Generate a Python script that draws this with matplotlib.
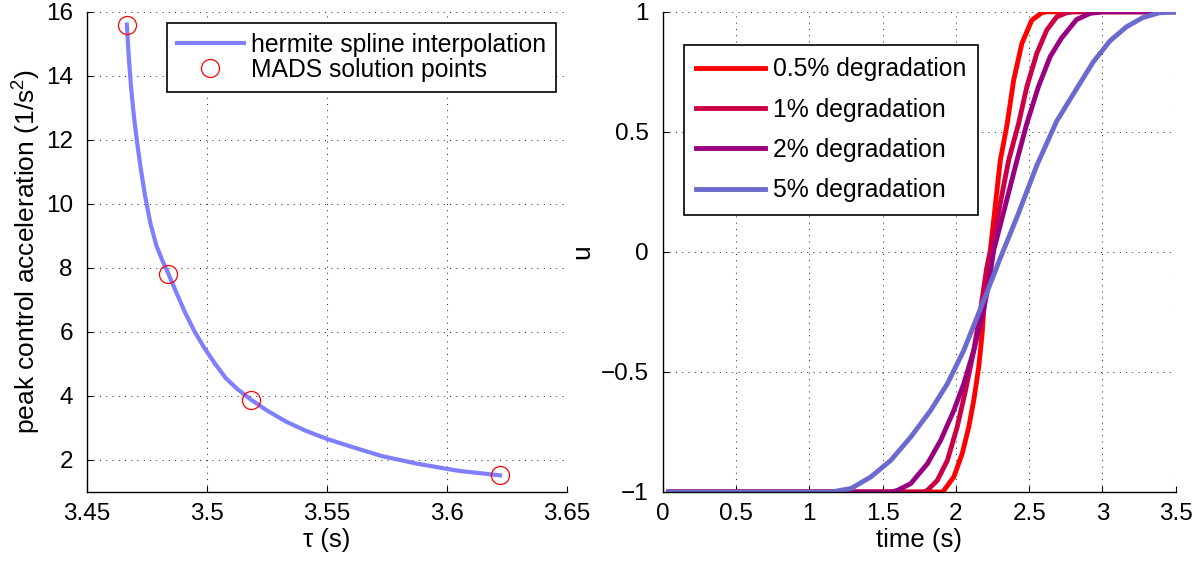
import matplotlib
matplotlib.use("Agg")
import matplotlib.pyplot as plt

plt.rcParams['font.family'] = ['Liberation Sans', 'DejaVu Sans']
plt.rcParams['mathtext.default'] = 'regular'
plt.rcParams['font.size'] = 17

# left panel: peak control acceleration vs tau (spline)
tau_curve = [3.4667, 3.4675, 3.4685, 3.4697, 3.4710, 3.4725, 3.4743, 3.4765, 3.4790,
             3.4815, 3.4840, 3.4875, 3.4910, 3.4950, 3.4990, 3.5035, 3.5080, 3.5130,
             3.5185, 3.5250, 3.5330, 3.5410, 3.5500, 3.5600, 3.5730, 3.5880, 3.6050,
             3.6222]
accel_curve = [15.6, 14.6, 13.6, 12.7, 11.9, 11.1, 10.25, 9.4, 8.7,
               8.23, 7.82, 7.2, 6.6, 6.0, 5.5, 5.0, 4.55, 4.2,
               3.88, 3.55, 3.2, 2.92, 2.66, 2.42, 2.12, 1.88, 1.66,
               1.52]
tau_mads = [3.4667, 3.4840, 3.5185, 3.6222]
accel_mads = [15.6, 7.82, 3.87, 1.52]

# right panel: control histories
labels = ["0.5% degradation", "1% degradation", "2% degradation", "5% degradation"]
colors = ["#FF0000", "#CC0044", "#990080", "#6B6BCF"]

t_05 = [0.04, 1.91, 1.986, 2.043, 2.088, 2.122, 2.156, 2.179, 2.195, 2.213, 2.235,
        2.27, 2.303, 2.349, 2.394, 2.450, 2.518, 2.586, 2.62, 3.5]
u_05 = [-1, -1, -0.937, -0.84, -0.729, -0.618, -0.479, -0.34, -0.201, -0.063, 0.007,
        0.2, 0.382, 0.53, 0.715, 0.868, 0.965, 0.996, 1, 1]

t_1 = [0.04, 1.78, 1.806, 1.874, 1.942, 2.009, 2.066, 2.122, 2.168, 2.208, 2.238,
       2.30, 2.360, 2.428, 2.484, 2.552, 2.620, 2.688, 2.756, 2.80, 3.5]
u_1 = [-1, -1, -0.993, -0.951, -0.868, -0.729, -0.576, -0.41, -0.243, -0.076, 0.0,
       0.194, 0.382, 0.535, 0.688, 0.827, 0.924, 0.979, 0.996, 1, 1]

t_2 = [0.04, 1.56, 1.602, 1.692, 1.806, 1.896, 1.986, 2.054, 2.122, 2.179, 2.224,
       2.258, 2.34, 2.417, 2.484, 2.563, 2.643, 2.72, 2.824, 2.914, 3.0, 3.5]
u_2 = [-1, -1, -0.993, -0.965, -0.882, -0.785, -0.66, -0.549, -0.41, -0.271, -0.132,
       0.007, 0.2, 0.382, 0.535, 0.688, 0.813, 0.89, 0.968, 0.993, 1, 1]

t_5 = [0.04, 1.15, 1.286, 1.42, 1.556, 1.692, 1.828, 1.942, 2.054, 2.145, 2.235,
       2.30, 2.42, 2.552, 2.688, 2.824, 2.936, 3.05, 3.163, 3.276, 3.389, 3.5]
u_5 = [-1, -1, -0.985, -0.937, -0.868, -0.771, -0.66, -0.549, -0.41, -0.271, -0.132,
       -0.03, 0.15, 0.36, 0.545, 0.68, 0.79, 0.878, 0.937, 0.976, 0.996, 1]

times = [t_05, t_1, t_2, t_5]
controls = [u_05, u_1, u_2, u_5]


def style_axes(ax):
    ax.spines['top'].set_visible(False)
    ax.spines['right'].set_visible(False)
    for s in ['left', 'bottom']:
        ax.spines[s].set_linewidth(1.0)
    ax.tick_params(direction='in', length=4, width=0.8, labelsize=17.5)
    ax.tick_params(axis='x', pad=8)
    ax.tick_params(axis='y', pad=10)
    ax.grid(True, color='k', linestyle=(0, (1, 5)), linewidth=0.75, alpha=0.8)
    ax.set_axisbelow(True)


fig = plt.figure(figsize=(12, 5.61), dpi=100)

ax1 = fig.add_axes([0.0723, 0.123, 0.400, 0.856])
ax1.plot(tau_curve, accel_curve, color='#7F7FFF', linewidth=3,
         label='hermite spline interpolation')
ax1.plot(tau_mads, accel_mads, 'o', markerfacecolor='none', markeredgecolor='red',
         markersize=13, markeredgewidth=0.9, label='MADS solution points')
ax1.set_xlim(3.45, 3.65)
ax1.set_ylim(1, 16)
ax1.set_xticks([3.45, 3.5, 3.55, 3.6, 3.65])
ax1.set_xticklabels(['3.45', '3.5', '3.55', '3.6', '3.65'])
ax1.set_yticks([2, 4, 6, 8, 10, 12, 14, 16])
style_axes(ax1)
ax1.set_xlabel('τ (s)', fontsize=18.5, labelpad=2)
ax1.set_ylabel('peak control acceleration (1/s$^2$)', fontsize=19)
ax1.yaxis.set_label_coords(-0.092, 0.5)
leg1 = ax1.legend(loc='upper right', bbox_to_anchor=(0.978, 0.977), borderaxespad=0,
                  fancybox=False, edgecolor='k', framealpha=1, fontsize=17.8,
                  handlelength=2.7, handletextpad=0.3, labelspacing=0.05, borderpad=0.4)
leg1.get_frame().set_linewidth(1.2)

ax2 = fig.add_axes([0.5523, 0.123, 0.4275, 0.856])
for t, u, c, lab in zip(times, controls, colors, labels):
    ax2.plot(t, u, color=c, linewidth=3.5, label=lab)
ax2.set_xlim(0, 3.5)
ax2.set_ylim(-1, 1)
ax2.set_xticks([0, 0.5, 1, 1.5, 2, 2.5, 3, 3.5])
ax2.set_xticklabels(['0', '0.5', '1', '1.5', '2', '2.5', '3', '3.5'])
ax2.set_yticks([-1, -0.5, 0, 0.5, 1])
ax2.set_yticklabels(['\u22121', '\u22120.5', '0', '0.5', '1'])
style_axes(ax2)
ax2.set_xlabel('time (s)', fontsize=18.5, labelpad=2)
ax2.set_ylabel('u', fontsize=19)
ax2.yaxis.set_label_coords(-0.134, 0.5)
leg2 = ax2.legend(loc='upper left', bbox_to_anchor=(0.0405, 0.931), borderaxespad=0,
                  fancybox=False, edgecolor='k', framealpha=1, fontsize=17.8,
                  handlelength=2.8, handletextpad=0.3, labelspacing=0.66, borderpad=0.5)
leg2.get_frame().set_linewidth(1.2)

fig.savefig('out.png', dpi=100)
